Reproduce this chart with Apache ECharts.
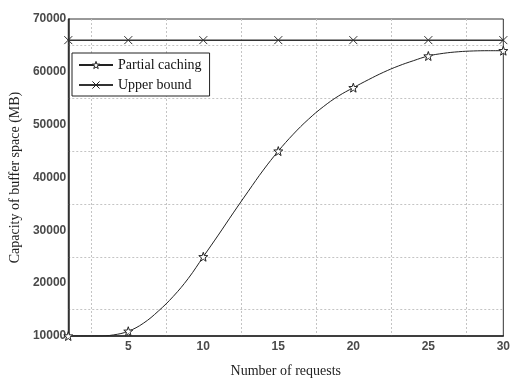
<!DOCTYPE html>
<html>
<head>
<meta charset="utf-8">
<script src="https://cdn.jsdelivr.net/npm/echarts@6/dist/echarts.min.js"></script>
<style>
  html, body { margin: 0; padding: 0; background: #fff; }
  #chart { width: 513px; height: 383px; }
</style>
</head>
<body>
<div id="chart"></div>
<script>
// number of requests, read at every integer
const requests = [1, 2, 3, 4, 5, 6, 7, 8, 9, 10, 11, 12, 13, 14, 15,
    16, 17, 18, 19, 20, 21, 22, 23, 24, 25, 26, 27, 28, 29, 30];
const partialCaching = [10000, 10000, 10000, 10200, 10900, 12400, 14700, 17500, 20900, 25000,
    29100, 33300, 37400, 41400, 45000, 48200, 51000, 53400, 55400, 57000,
    58500, 59900, 61100, 62100, 63000, 63500, 63800, 63950, 64000, 64000];
// marker positions
const markerRequests = [1, 5, 10, 15, 20, 25, 30];
const upperBound = [66000, 66000, 66000, 66000, 66000, 66000, 66000];

const xTickLabels = [5, 10, 15, 20, 25, 30];
const xGridLines = [2.5, 7.5, 12.5, 17.5, 22.5, 27.5];
const yTickLabels = [10000, 20000, 30000, 40000, 50000, 60000, 70000];
const yGridLines = [15000, 25000, 35000, 45000, 55000, 65000];

const STAR = 'path://M5,0L6.2,3.5L10,3.6L7,5.9L8.1,9.5L5,7.4L1.9,9.5L3,5.9L0,3.6L3.8,3.5Z';
const CROSS = 'path://M0,0L10,10M10,0L0,10';

const serif = 'Liberation Serif';
const labelStyle = {
    fontFamily: 'Liberation Sans',
    fontWeight: 'bold',
    fontSize: 12,
    color: '#4a4a4a',
    formatter: v => String(v)
};
const gridLine = { show: true, lineStyle: { color: '#c4c4c4', type: [2, 2], width: 1 } };

const chart = echarts.init(document.getElementById('chart'));

const partialData = requests.map((x, i) => ({
    value: [x, partialCaching[i]],
    symbol: markerRequests.includes(x) ? STAR : 'none'
}));

chart.setOption({
    animation: false,
    grid: {
        left: 63, right: 5, top: 19, bottom: 36,
        show: true, borderColor: '#333', borderWidth: 1
    },
    legend: {
        orient: 'vertical',
        left: 72, top: 53,
        backgroundColor: '#fff',
        borderColor: '#222', borderWidth: 1,
        padding: [5, 8, 4, 6],
        itemWidth: 34, itemHeight: 9, itemGap: 6,
        itemStyle: { color: '#fff', borderColor: '#222', borderWidth: 1 },
        textStyle: { fontFamily: serif, fontSize: 14, color: '#111' },
        data: ['Partial caching', 'Upper bound']
    },
    xAxis: {
        type: 'value',
        min: 1, max: 30,
        name: 'Number of requests',
        nameLocation: 'middle',
        nameGap: 28,
        nameTextStyle: { fontFamily: serif, fontSize: 14, color: '#222' },
        axisLine: { lineStyle: { color: '#222', width: 1.5 } },
        axisTick: { show: false, customValues: xGridLines },
        axisLabel: Object.assign({ customValues: xTickLabels, margin: 5 }, labelStyle),
        splitLine: gridLine
    },
    yAxis: {
        type: 'value',
        min: 10000, max: 70000,
        name: 'Capacity of buffer space (MB)',
        nameLocation: 'middle',
        nameGap: 46,
        nameTextStyle: { fontFamily: serif, fontSize: 14, color: '#222' },
        axisLine: { show: true, lineStyle: { color: '#222', width: 1.5 } },
        axisTick: { show: false, customValues: yGridLines },
        axisLabel: Object.assign({ customValues: yTickLabels, margin: 2 }, labelStyle),
        splitLine: gridLine
    },
    series: [{
        name: 'Partial caching',
        type: 'line',
        data: partialData,
        symbol: STAR,
        symbolSize: 9,
        smooth: 0.4,
        color: '#222',
        lineStyle: { color: '#222', width: 1 },
        itemStyle: { color: '#fff', borderColor: '#222', borderWidth: 1 },
        z: 3
    }, {
        name: 'Upper bound',
        type: 'line',
        data: markerRequests.map((x, i) => [x, upperBound[i]]),
        symbol: CROSS,
        symbolSize: 8,
        color: '#222',
        lineStyle: { color: '#333', width: 1.5 },
        itemStyle: { color: 'none', borderColor: '#333', borderWidth: 1 },
        z: 3
    }]
});
</script>
</body>
</html>
